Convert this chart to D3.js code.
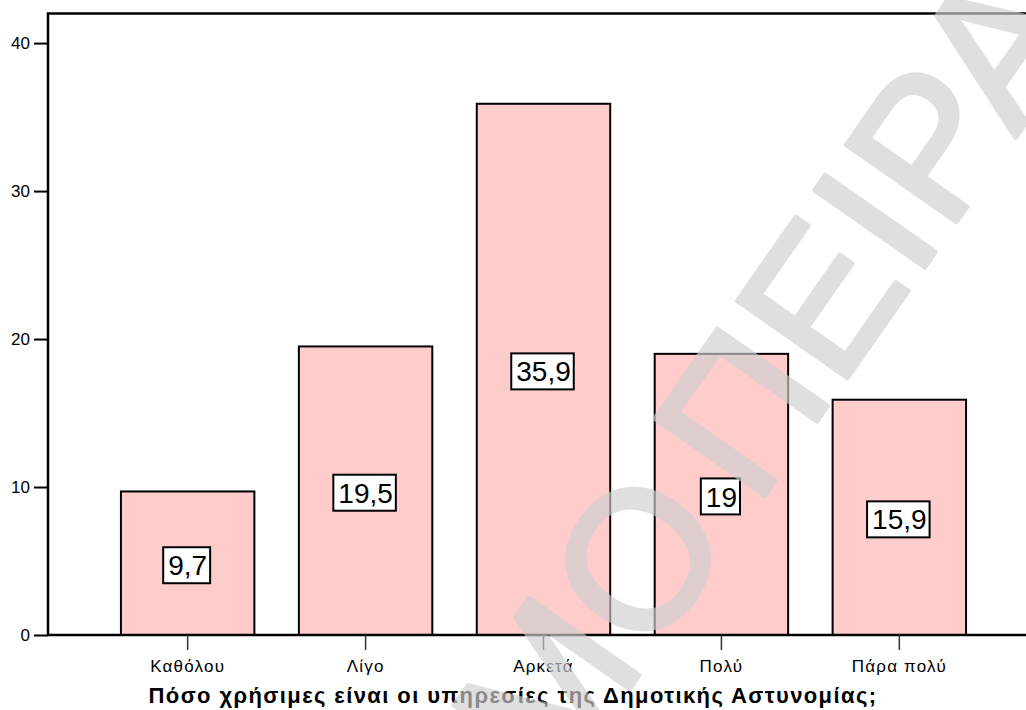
<!DOCTYPE html>
<html>
<head>
<meta charset="utf-8">
<script src="https://d3js.org/d3.v7.min.js"></script>
<style>
  html, body { margin: 0; padding: 0; background: #fff; }
  svg { display: block; font-family: "Liberation Sans", Arial, Helvetica, sans-serif; }
</style>
</head>
<body>
<svg id="chart" width="1026" height="710"></svg>
<script>
// Survey answers: how useful are the Municipal Police services (percent)
const categories = ["Καθόλου", "Λίγο", "Αρκετά", "Πολύ", "Πάρα πολύ"];
const percents = [9.7, 19.5, 35.9, 19, 15.9];
const yTicks = [0, 10, 20, 30, 40];
const xTitle = "Πόσο χρήσιμες είναι οι υπηρεσίες της Δημοτικής Αστυνομίας;";
const stampText = "ΜΟΠΕΙΡΑ";

const svg = d3.select("#chart");
const plotL = 48, plotR = 1039, plotT = 13.5, plotB = 635;

const x = d3.scaleBand()
  .domain(categories)
  .range([plotL, plotR])
  .paddingInner(0.25)
  .paddingOuter(0.41);

const y = d3.scaleLinear().domain([0, 42]).range([plotB, plotT]);

const fmt = v => String(v).replace(".", ",");

// bars
svg.append("g").selectAll("rect")
  .data(percents)
  .join("rect")
  .attr("x", (d, i) => x(categories[i]))
  .attr("y", d => y(d))
  .attr("width", x.bandwidth())
  .attr("height", d => y(0) - y(d))
  .attr("fill", "#ffcccc")
  .attr("stroke", "#000")
  .attr("stroke-width", 2);

// plot frame (left, top, bottom edges)
svg.append("rect")
  .attr("x", plotL).attr("y", plotT)
  .attr("width", plotR - plotL).attr("height", plotB - plotT)
  .attr("fill", "none").attr("stroke", "#000").attr("stroke-width", 2.5);

// y axis
const yAxis = svg.append("g")
  .attr("transform", `translate(${plotL},0)`)
  .call(d3.axisLeft(y).tickValues(yTicks).tickSize(14).tickPadding(4).tickFormat(d3.format("d")));
yAxis.select(".domain").remove();
yAxis.selectAll(".tick line").attr("stroke", "#000").attr("stroke-width", 2);
yAxis.selectAll(".tick text")
  .attr("fill", "#000").style("font-size", "17px")
  .style("font-family", "'Liberation Sans', Arial, sans-serif");

// x axis
const xAxis = svg.append("g")
  .attr("transform", `translate(0,${plotB})`)
  .call(d3.axisBottom(x).tickSize(15).tickPadding(10));
xAxis.select(".domain").remove();
xAxis.selectAll(".tick line").attr("stroke", "#333").attr("stroke-width", 1.5);
xAxis.selectAll(".tick text")
  .attr("fill", "#000").style("font-size", "17px")
  .style("letter-spacing", "1.2px")
  .style("font-family", "'Liberation Sans', Arial, sans-serif");

// axis title
svg.append("text")
  .attr("x", 513).attr("y", 703)
  .attr("text-anchor", "middle")
  .style("font-size", "22px").style("font-weight", "bold")
  .style("letter-spacing", "1.4px")
  .text(xTitle);

// value labels in boxed tags at bar mid-height
const lbl = svg.append("g").selectAll("g")
  .data(percents)
  .join("g")
  .attr("transform", (d, i) => `translate(${x(categories[i]) + x.bandwidth() / 2},${(y(d) + y(0)) / 2 + 2})`);
lbl.append("text")
  .attr("text-anchor", "middle")
  .attr("dy", "0.36em")
  .style("font-size", "28px")
  .text(d => fmt(d));
lbl.each(function () {
  const g = d3.select(this);
  const bb = g.select("text").node().getBBox();
  g.insert("rect", "text")
    .attr("x", bb.x - 5).attr("y", -18)
    .attr("width", bb.width + 8).attr("height", 36)
    .attr("fill", "#fff").attr("stroke", "#000").attr("stroke-width", 2);
});

// diagonal stamp across the chart, anchored on its second letter
const stampAngle = -55;
const stamp = svg.append("g").attr("opacity", 0.66);
const stampTxt = stamp.append("text")
  .attr("fill", "rgb(208,208,208)")
  .attr("stroke", "rgb(208,208,208)")
  .attr("stroke-width", 5)
  .attr("stroke-linejoin", "round")
  .attr("dx", "0 0 30")
  .style("font-size", "195px")
  .style("letter-spacing", "3px")
  .text(stampText);
const ext = stampTxt.node().getExtentOfChar(1);
const cx = ext.x + ext.width / 2, cy = ext.y + ext.height / 2 + 8;
const a = stampAngle * Math.PI / 180;
const rx = cx * Math.cos(a) - cy * Math.sin(a);
const ry = cx * Math.sin(a) + cy * Math.cos(a);
stampTxt.attr("transform", `translate(${645 - rx},${562 - ry}) rotate(${stampAngle})`);
</script>
</body>
</html>
